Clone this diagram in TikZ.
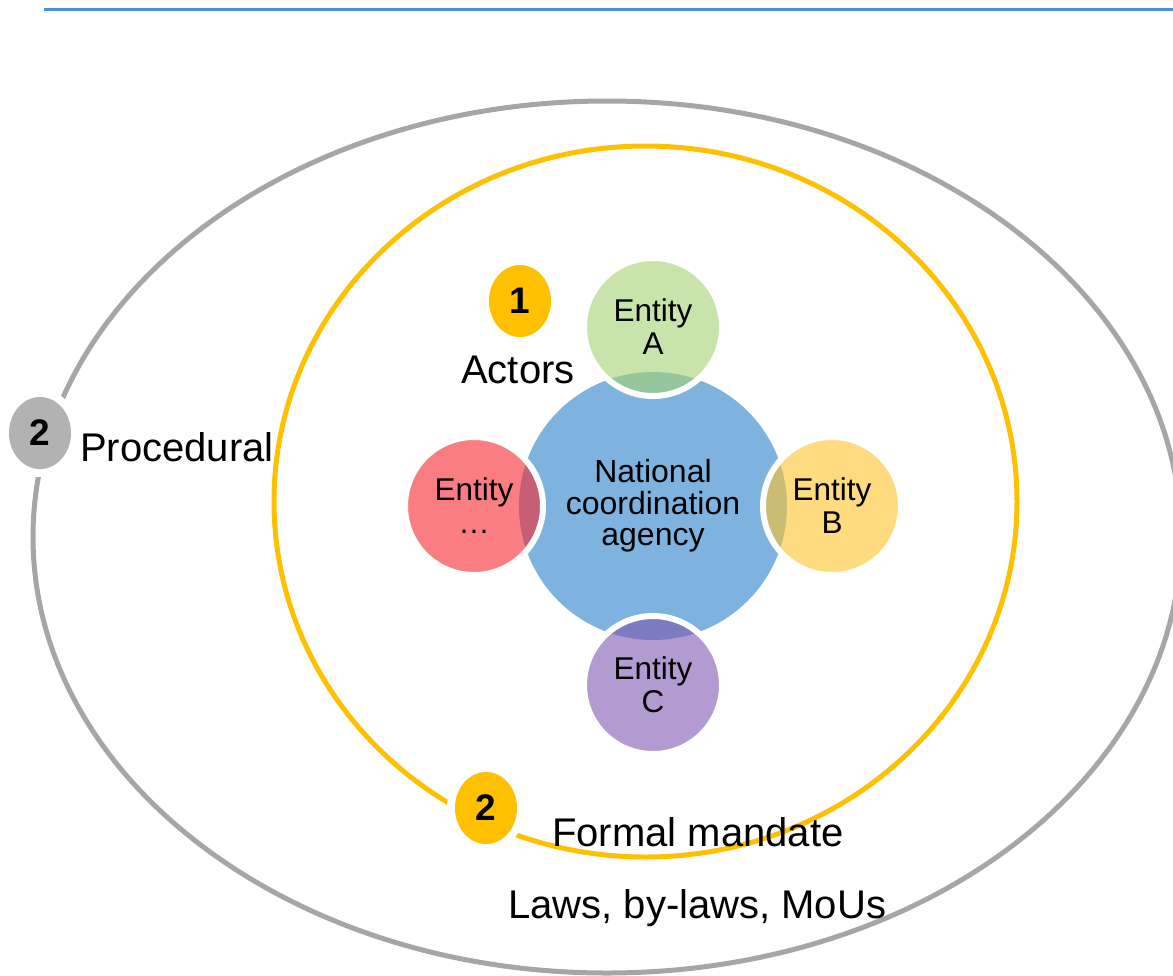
\documentclass[tikz,border=0pt]{standalone}
\usepackage{fontspec}
\setmainfont{Liberation Sans}
\usetikzlibrary{shapes.geometric}
\definecolor{topblue}{RGB}{74,144,217}
\definecolor{outergray}{RGB}{166,166,166}
\definecolor{badgegray}{RGB}{178,178,178}
\definecolor{gold}{RGB}{255,192,0}
\definecolor{centerblue}{RGB}{126,179,223}
\definecolor{satgreen}{RGB}{163,210,113}
\definecolor{satyellow}{RGB}{255,195,43}
\definecolor{satpurple}{RGB}{125,88,177}
\definecolor{satred}{RGB}{247,38,47}
\begin{document}
\begin{tikzpicture}[x=1pt,y=-1pt,
  sat/.style={circle, minimum size=138pt, inner sep=0pt, line width=6pt, draw=white,
    fill opacity=0.6, draw opacity=1, text opacity=1, align=center,
    font=\fontsize{31.5}{33}\selectfont},
  hub/.style={circle, minimum size=268pt, inner sep=0pt, fill=centerblue, align=center,
    font=\fontsize{32}{31.5}\selectfont},
  badge/.style={ellipse, minimum width=62pt, minimum height=72pt, inner sep=0pt,
    font=\bfseries\fontsize{37}{37}\selectfont},
  halo/.style={ellipse, minimum width=78pt, minimum height=88pt, inner sep=0pt, fill=white},
  lbl/.style={anchor=base west, inner sep=0pt, font=\fontsize{40}{48}\selectfont}]
\useasboundingbox (0,0) rectangle (1173,975);
% top rule
\coordinate (tl) at (44,9);
\coordinate (tr) at (1173,9);
\draw[topblue, line width=3pt] (tl) -- (tr);
% rings
\draw[outergray, line width=5pt] (607,537) ellipse [x radius=574pt, y radius=436pt];
\draw[gold, line width=5pt] (645.5,501.5) ellipse [x radius=371.5pt, y radius=355.5pt];
% badge halos and badges
\node[halo] (hp) at (40,433) {};
\node[halo] (hf) at (486,808) {};
\node[badge, fill=badgegray] (b2p) at (40,433) {2};
\node[badge, fill=gold] (b1) at (520,301) {1};
\node[badge, fill=gold] (b2f) at (486,808) {2};
% labels
\node[lbl] (proc) at (80,461) {Procedural};
\node[lbl] (act) at (461,383) {Actors};
\node[lbl] (fm) at (552,846) {Formal mandate};
\node[lbl] (laws) at (508,918) {Laws, by-laws, MoUs};
% actors
\node[hub] (nca) at (653,506) {National\\coordination\\agency};
\node[sat, fill=satgreen] (ea) at (653,327) {Entity\\A};
\node[sat, fill=satyellow] (eb) at (832,506) {Entity\\B};
\node[sat, fill=satpurple] (ec) at (653,685) {Entity\\C};
\node[sat, fill=satred] (ed) at (474,506) {Entity\\…};
\end{tikzpicture}
\end{document}
